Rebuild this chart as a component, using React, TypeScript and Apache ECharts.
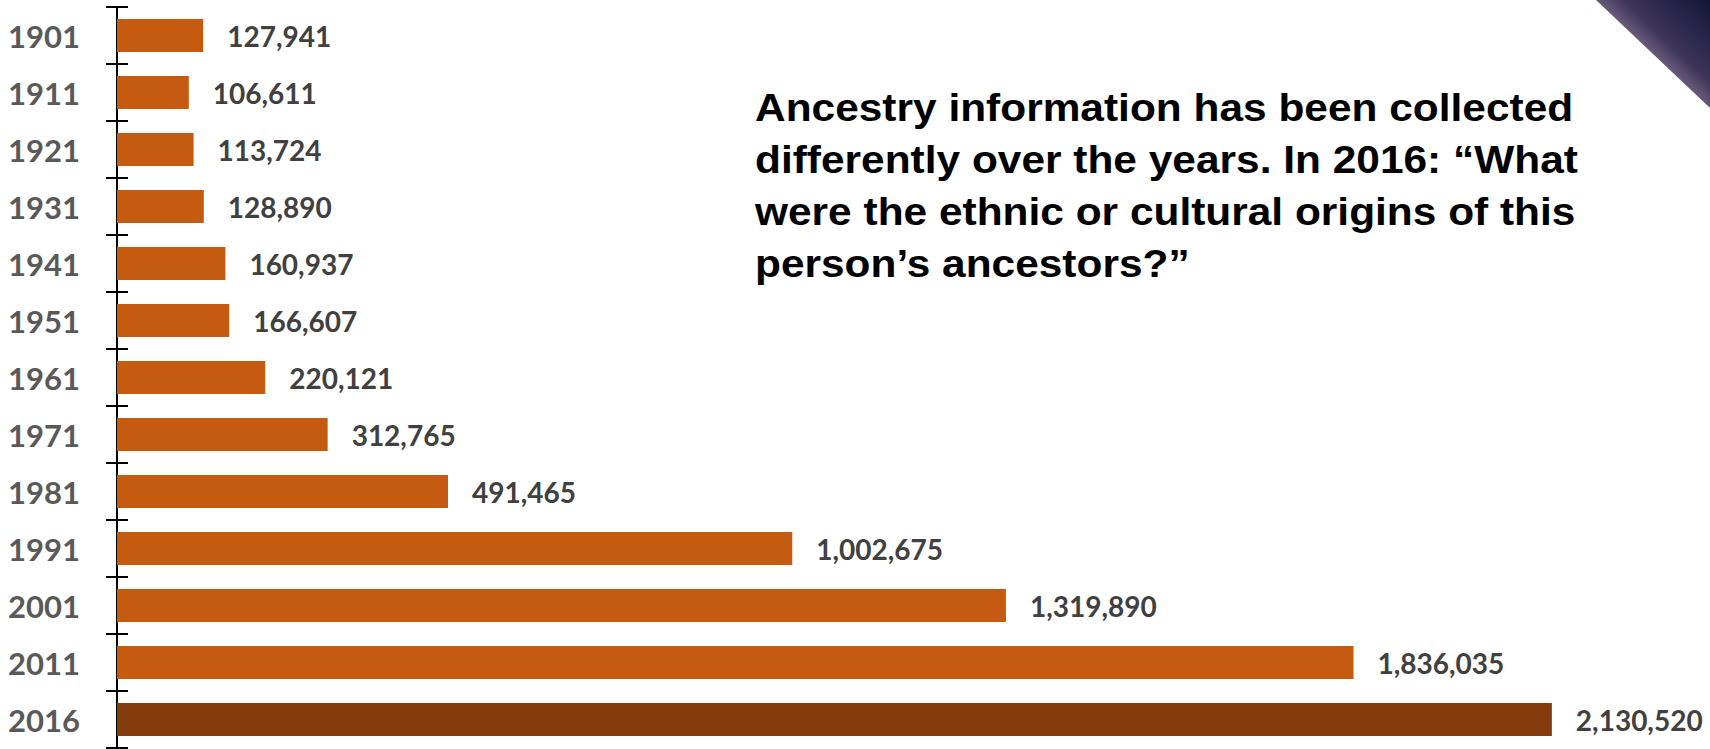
import React, { useEffect, useRef } from "react";
import * as echarts from "echarts";

const years: string[] = ["1901", "1911", "1921", "1931", "1941", "1951", "1961", "1971", "1981", "1991", "2001", "2011", "2016"];
const counts: number[] = [127941, 106611, 113724, 128890, 160937, 166607, 220121, 312765, 491465, 1002675, 1319890, 1836035, 2130520];
const highlightYear = "2016";
const noteLines: string[] = [
  "Ancestry information has been collected",
  "differently over the years. In 2016: \u201CWhat",
  "were the ethnic or cultural origins of this",
  "person\u2019s ancestors?\u201D",
];

export default function App() {
  const ref = useRef<HTMLDivElement>(null);
  useEffect(() => {
    if (!ref.current) return;
    const chart = echarts.init(ref.current, undefined, { renderer: "svg" });
    const data = counts.map((v, i) => ({
      value: v,
      itemStyle: { color: years[i] === highlightYear ? "#843C0C" : "#C55A11" },
    }));
    chart.setOption({
      animation: false,
      backgroundColor: "#ffffff",
      grid: { left: 117, right: 44, top: 7, bottom: 1, containLabel: false },
      xAxis: {
        type: "value",
        min: 0,
        max: 2300000,
        show: false,
      },
      yAxis: [
        {
          type: "category",
          data: years,
          inverse: true,
          position: "left",
          axisLine: { show: true, lineStyle: { color: "#000", width: 2 } },
          axisTick: { show: true, inside: false, length: 11, lineStyle: { color: "#000", width: 2 } },
          axisLabel: {
            margin: 37,
            color: "#595959",
            fontFamily: "Lato",
            fontWeight: "bold",
            fontSize: 31,
          },
        },
        {
          type: "category",
          data: years,
          inverse: true,
          position: "left",
          axisLine: { show: false },
          axisTick: { show: true, inside: true, length: 11, lineStyle: { color: "#000", width: 2 } },
          axisLabel: { show: false },
        },
      ],
      series: [
        {
          type: "bar",
          data,
          yAxisIndex: 0,
          barCategoryGap: "42%",
          label: {
            show: true,
            position: "right",
            distance: 24,
            color: "#404040",
            fontFamily: "Lato",
            fontWeight: "bold",
            fontSize: 28,
            formatter: (p: any) => Number(p.value).toLocaleString("en-US"),
          },
        },
      ],
      graphic: [
        {
          type: "polygon",
          shape: { points: [[1596, 0], [1710, 0], [1710, 108]] },
          style: {
            fill: new echarts.graphic.LinearGradient(0, 1, 1, 0, [
              { offset: 0.5, color: "#6a5a7a" },
              { offset: 0.62, color: "#3e3558" },
              { offset: 0.8, color: "#27264a" },
              { offset: 1, color: "#141633" },
            ]),
          },
          silent: true,
        },
        {
          type: "text",
          x: 755,
          y: 82,
          scaleX: 1.088,
          style: {
            text: noteLines.join("\n"),
            fontFamily: "Liberation Sans, Arial, sans-serif",
            fontWeight: "bold",
            fontSize: 39,
            lineHeight: 52,
            fill: "#000000",
            textAlign: "left",
            textVerticalAlign: "top",
          },
          silent: true,
        },
      ],
    });
    return () => chart.dispose();
  }, []);
  return (
    <div
      ref={ref}
      style={{ position: "fixed", left: 0, top: 0, width: 1710, height: 749 }}
    />
  );
}
